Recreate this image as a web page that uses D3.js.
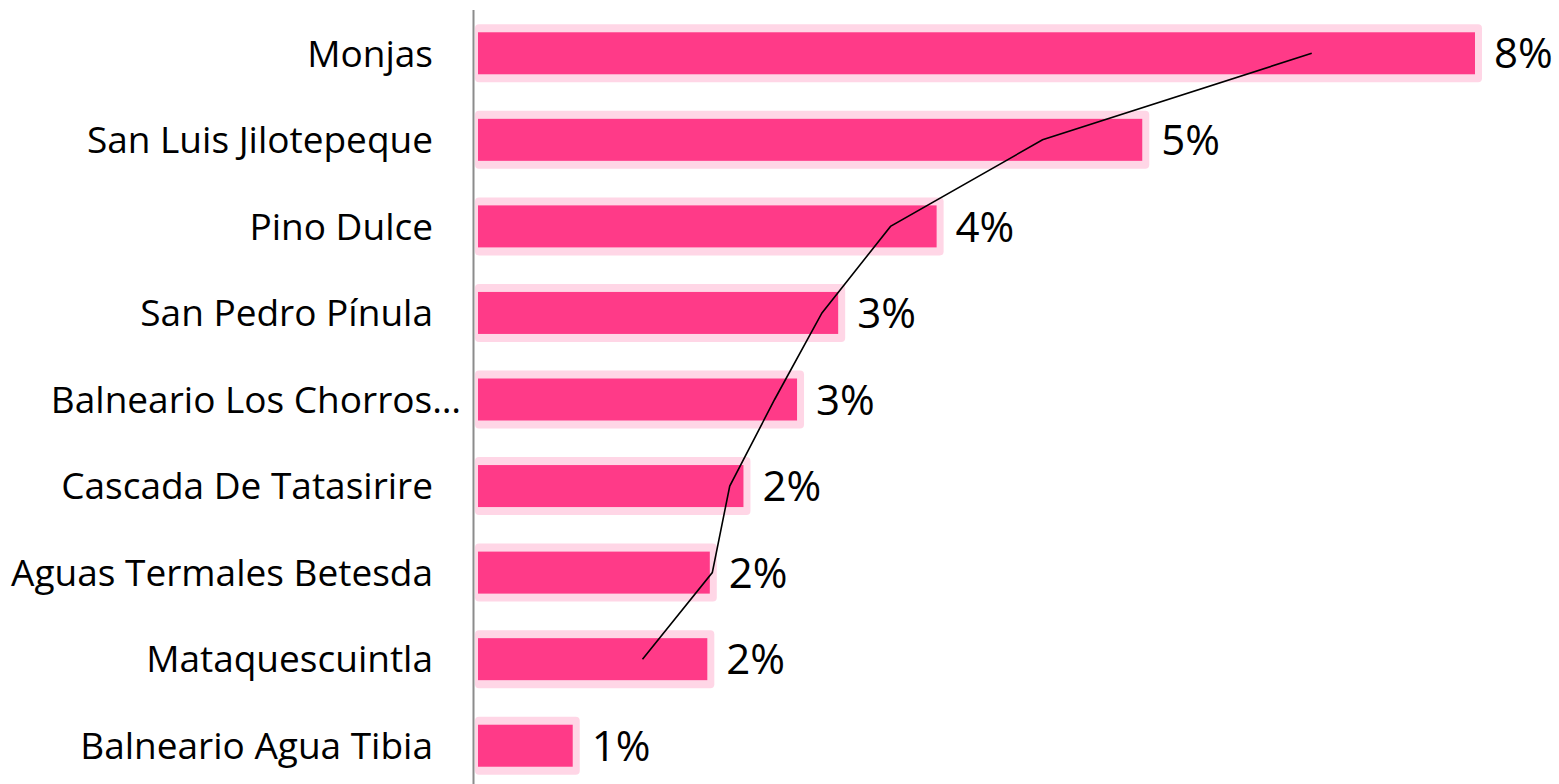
<!DOCTYPE html>
<html>
<head>
<meta charset="utf-8">
<script src="https://cdn.jsdelivr.net/npm/d3@7"></script>
<style>
  body { margin: 0; background: #fff; }
  text { font-family: "Open Sans", "Noto Sans", sans-serif; fill: #000; }
</style>
</head>
<body>
<div id="chart"></div>
<script>
// data
var categories = ["Monjas", "San Luis Jilotepeque", "Pino Dulce", "San Pedro Pínula",
    "Balneario Los Chorros…", "Cascada De Tatasirire", "Aguas Termales Betesda",
    "Mataquescuintla", "Balneario Agua Tibia"];
var shares = [8.0, 5.33, 3.68, 2.89, 2.56, 2.13, 1.86, 1.84, 0.76];
var trend = [6.69, 4.53, 3.31, 2.76, 2.38, 2.02, 1.88, 1.32, null];

var width = 1559, height = 784;

var svg = d3.select("#chart").append("svg")
    .attr("width", width)
    .attr("height", height);

var x = d3.scaleLinear().domain([0, 8]).range([478, 1475]);
var y = d3.scaleBand().domain(categories).range([10, 789]).padding(0);

var barH = 42;
var rows = categories.map(function (c, i) { return { name: c, v: shares[i], t: trend[i] }; });

// light halo behind each bar
svg.append("g").selectAll("rect")
    .data(rows).enter().append("rect")
    .attr("x", x(0) - 3)
    .attr("y", d => y(d.name) + y.bandwidth() / 2 - 29)
    .attr("width", d => x(d.v) - x(0) + 10)
    .attr("height", 58)
    .attr("rx", 4)
    .style("fill", "#ffd6e6");

svg.append("g").selectAll("rect")
    .data(rows).enter().append("rect")
    .attr("x", x(0))
    .attr("y", d => y(d.name) + y.bandwidth() / 2 - barH / 2)
    .attr("width", d => x(d.v) - x(0))
    .attr("height", barH)
    .style("fill", "#ff3a88");

// axis line
svg.append("line")
    .attr("x1", 473.5).attr("x2", 473.5)
    .attr("y1", 10).attr("y2", height)
    .style("stroke", "#8c8c8c")
    .style("stroke-width", 2);

// category labels
svg.append("g").selectAll("text")
    .data(rows).enter().append("text")
    .attr("x", d => d.name.endsWith("…") ? 461 : 433)
    .attr("y", d => y(d.name) + y.bandwidth() / 2)
    .attr("dy", "0.36em")
    .attr("text-anchor", "end")
    .style("font-size", "37px")
    .text(d => d.name);

// value labels
svg.append("g").selectAll("text")
    .data(rows).enter().append("text")
    .attr("x", d => x(d.v) + 19)
    .attr("y", d => y(d.name) + y.bandwidth() / 2)
    .attr("dy", "0.36em")
    .style("font-size", "42px")
    .text(d => Math.round(d.v) + "%");

// trend line
var line = d3.line()
    .defined(d => d.t != null)
    .x(d => x(d.t))
    .y(d => y(d.name) + y.bandwidth() / 2);

svg.append("path")
    .datum(rows)
    .attr("d", line)
    .style("fill", "none")
    .style("stroke", "#000")
    .style("stroke-width", 1.6);
</script>
</body>
</html>
